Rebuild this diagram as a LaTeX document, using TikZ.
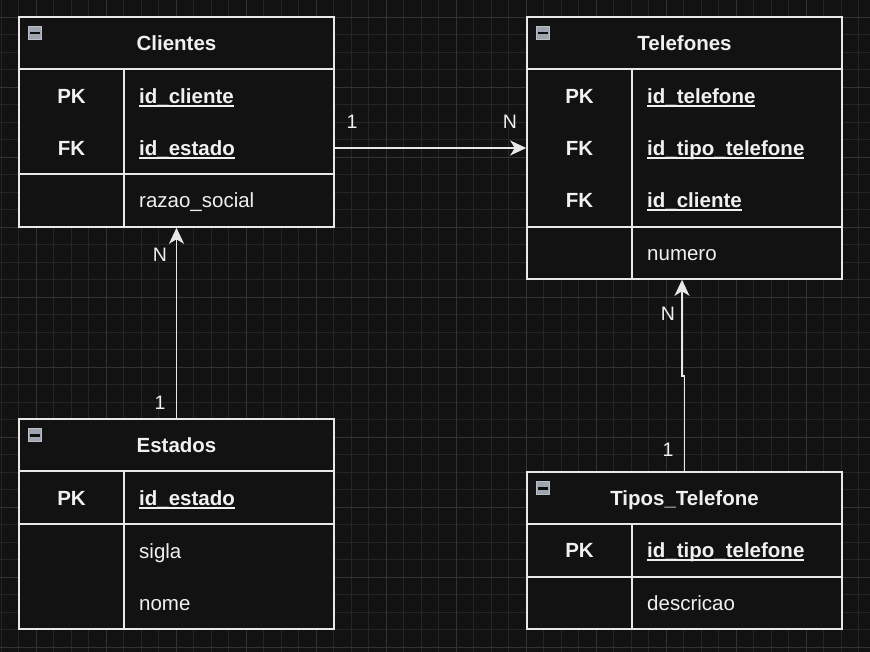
\documentclass[tikz,border=0pt]{standalone}
\usepackage{fontspec}
\setmainfont{Liberation Sans}
\usetikzlibrary{arrows.meta}
\definecolor{bg}{HTML}{121212}
\definecolor{gmin}{HTML}{252525}
\definecolor{gmaj}{HTML}{333333}
\definecolor{lc}{HTML}{E8E8E8}
\definecolor{tc}{HTML}{F0F0F0}
\definecolor{iconbg}{HTML}{9EA4B0}
\newcommand{\myul}[1]{\setbox0\hbox{#1}\rlap{\vrule width\wd0 height -2pt depth 3.6pt}\box0}
\tikzset{
  tbl/.style={draw=lc, line width=1.6pt, fill=bg, inner sep=0pt},
  sep/.style={draw=lc, line width=1.6pt},
  hdr/.style={text=tc, font=\bfseries\fontsize{20.5}{24}\selectfont, inner sep=0pt, anchor=base},
  keycol/.style={text=tc, font=\bfseries\fontsize{20.5}{24}\selectfont, inner sep=0pt, anchor=base},
  keyfld/.style={text=tc, font=\bfseries\fontsize{20.5}{24}\selectfont, anchor=base west, inner sep=0pt},
  fld/.style={text=tc, font=\fontsize{20.5}{24}\selectfont, anchor=base west, inner sep=0pt},
  card/.style={text=tc, font=\fontsize{19.5}{23}\selectfont, inner sep=0pt, anchor=base},
  conn/.style={draw=lc, line width=1.6pt, -{Stealth[length=16pt,width=15pt,inset=4.5pt]}},
  icon/.style={draw=iconbg!70!white, fill=iconbg, line width=0.8pt, minimum size=13pt, inner sep=0pt},
}
\begin{document}
\begin{tikzpicture}[x=1pt,y=-1pt]
\useasboundingbox (0,0) rectangle (870,652);
\fill[bg] (0,0) rectangle (870,652);
% grid
\foreach \i in {0,...,50} {
  \draw[gmin, line width=0.7pt] ({1.3+17.5*\i},0) -- ({1.3+17.5*\i},652);
}
\foreach \i in {0,...,38} {
  \draw[gmin, line width=0.7pt] (0,{-0.2+17.5*\i}) -- (870,{-0.2+17.5*\i});
}
\foreach \i in {0,...,12} {
  \draw[gmaj, line width=0.8pt] ({36.3+70*\i},0) -- ({36.3+70*\i},652);
}
\foreach \i in {0,...,9} {
  \draw[gmaj, line width=0.8pt] (0,{17.3+70*\i}) -- (870,{17.3+70*\i});
}

% ---------- Clientes ----------
\node[tbl, minimum width=315pt, minimum height=210pt] (cli) at (176.5,122) {};
\draw[sep] (19,69) -- (334,69);
\draw[sep] (19,174) -- (334,174);
\draw[sep] (124,69) -- (124,227);
\node[icon] (cliicon) at (35,33) {};
\fill[bg!80!black] (30,32) rectangle (40,34.5);
\node[hdr] (clih) at (176.5,50.3) {Clientes};
\node[keycol] (clipk) at (71.5,103.3) {PK};
\node[keycol] (clifk) at (71.5,155.3) {FK};
\node[keyfld] (clif1) at (139,103.3) {\myul{id\_cliente}};
\node[keyfld] (clif2) at (139,155.3) {\myul{id\_estado}};
\node[fld] (clif3) at (139,207.3) {razao\_social};

% ---------- Telefones ----------
\node[tbl, minimum width=315pt, minimum height=262pt] (tel) at (684.5,148) {};
\draw[sep] (527,69) -- (842,69);
\draw[sep] (527,227) -- (842,227);
\draw[sep] (632,69) -- (632,279);
\node[icon] (telicon) at (543,33) {};
\fill[bg!80!black] (538,32) rectangle (548,34.5);
\node[hdr] (telh) at (684.5,50.3) {Telefones};
\node[keycol] (telpk) at (579.5,103.3) {PK};
\node[keycol] (telfk1) at (579.5,155.3) {FK};
\node[keycol] (telfk2) at (579.5,207.3) {FK};
\node[keyfld] (telf1) at (647,103.3) {\myul{id\_telefone}};
\node[keyfld] (telf2) at (647,155.3) {\myul{id\_tipo\_telefone}};
\node[keyfld] (telf3) at (647,207.3) {\myul{id\_cliente}};
\node[fld] (telf4) at (647,260.3) {numero};

% ---------- Estados ----------
\node[tbl, minimum width=315pt, minimum height=210pt] (est) at (176.5,524) {};
\draw[sep] (19,471) -- (334,471);
\draw[sep] (19,524) -- (334,524);
\draw[sep] (124,471) -- (124,629);
\node[icon] (esticon) at (35,435) {};
\fill[bg!80!black] (30,434) rectangle (40,436.5);
\node[hdr] (esth) at (176.5,452.3) {Estados};
\node[keycol] (estpk) at (71.5,505.3) {PK};
\node[keyfld] (estf1) at (139,505.3) {\myul{id\_estado}};
\node[fld] (estf2) at (139,558.3) {sigla};
\node[fld] (estf3) at (139,610.3) {nome};

% ---------- Tipos_Telefone ----------
\node[tbl, minimum width=315pt, minimum height=157pt] (tip) at (684.5,550.5) {};
\draw[sep] (527,524) -- (842,524);
\draw[sep] (527,577) -- (842,577);
\draw[sep] (632,524) -- (632,629);
\node[icon] (tipicon) at (543,488) {};
\fill[bg!80!black] (538,487) rectangle (548,489.5);
\node[hdr] (tiph) at (684.5,505.3) {Tipos\_Telefone};
\node[keycol] (tippk) at (579.5,557.3) {PK};
\node[keyfld] (tipf1) at (647,557.3) {\myul{id\_tipo\_telefone}};
\node[fld] (tipf2) at (647,610.3) {descricao};

% ---------- connectors ----------
\draw[conn] (cli.east |- 0,148) -- (tel.west |- 0,148);
\draw[conn] (est.north) -- (cli.south);
\coordinate (jog) at (682,376);
\draw[conn] (tip.north) |- (jog) -- (jog |- tel.south);

% ---------- cardinalities ----------
\node[card] (c1) at (352,129) {1};
\node[card] (c2) at (510,129) {N};
\node[card] (c3) at (160,262) {N};
\node[card] (c4) at (160,409) {1};
\node[card] (c5) at (668,320) {N};
\node[card] (c6) at (668,456) {1};
\end{tikzpicture}
\end{document}
